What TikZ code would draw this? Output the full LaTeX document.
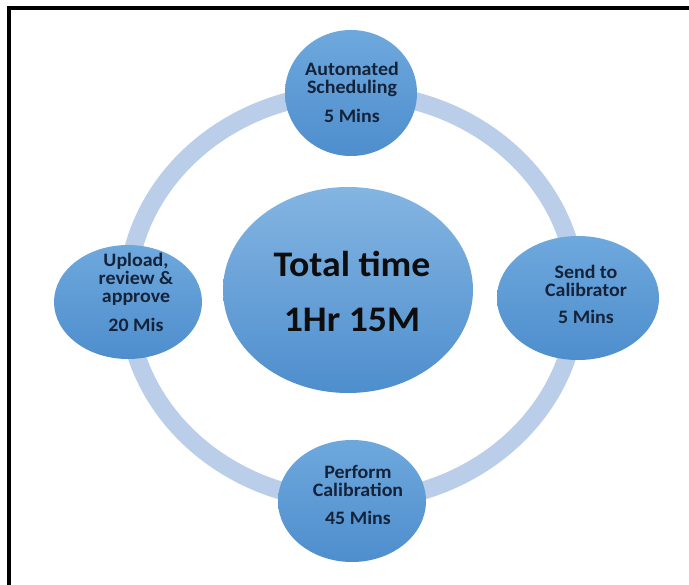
\documentclass[tikz,border=0pt]{standalone}
\usepackage{fontspec}
\setmainfont{Carlito}[FakeStretch=1.05]
\usetikzlibrary{shapes.geometric}
\definecolor{ringblue}{HTML}{BACEEA}
\definecolor{satlight}{HTML}{6EA8DD}
\definecolor{satdark}{HTML}{4E8ECD}
\definecolor{navytext}{HTML}{14233A}
\tikzset{
  sat/.style={ellipse, inner sep=0pt, top color=satlight, bottom color=satdark, draw=none},
  sattext/.style={align=center, text=navytext, font=\bfseries\fontsize{19}{18}\selectfont, inner sep=0pt, anchor=base},
  bigtext/.style={align=center, text=black!95, font=\bfseries\fontsize{36}{55}\selectfont, inner sep=0pt, anchor=base},
  frameline/.style={line width=4pt, black},
}
\begin{document}
\begin{tikzpicture}[x=1pt,y=-1pt]
\useasboundingbox (0,0) rectangle (689,585);
\fill[white] (0,0) rectangle (689,585);
% frame
\coordinate (ftl) at (9,8);
\coordinate (ftr) at (689,8);
\coordinate (fbl) at (9,585);
\draw[frameline] (ftr) -- (7,8);
\draw[frameline] (9,6) -- (fbl);
% ring
\coordinate (rc) at (352,297);
\draw[line width=18pt, ringblue] (rc) ellipse [x radius=225pt, y radius=204pt];
% circles
\node[sat, minimum width=250pt, minimum height=206pt, top color=satlight!85!white] (center) at (348,290) {};
\node[sat, minimum width=132pt, minimum height=126pt] (top) at (351,93) {};
\node[sat, minimum width=148pt, minimum height=114pt] (left) at (128,302) {};
\node[sat, minimum width=162pt, minimum height=124pt] (right) at (578,298) {};
\node[sat, minimum width=148pt, minimum height=122pt] (bottom) at (352,501) {};
% texts (anchor = baseline of last line)
\node[sattext] (ttop) at (352,123) {Automated\\Scheduling\\[11pt]5 Mins};
\node[sattext] (tleft) at (136,332) {Upload,\\review \&\\approve\\[11pt]20 Mis};
\node[sattext] (tright) at (586,324) {Send to\\Calibrator\\[9pt]5 Mins};
\node[sattext] (tbottom) at (358,525) {Perform\\Calibration\\[10pt]45 Mins};
\node[bigtext] (tcenter) at (352,332) {Total time\\1Hr 15M};
\end{tikzpicture}
\end{document}
